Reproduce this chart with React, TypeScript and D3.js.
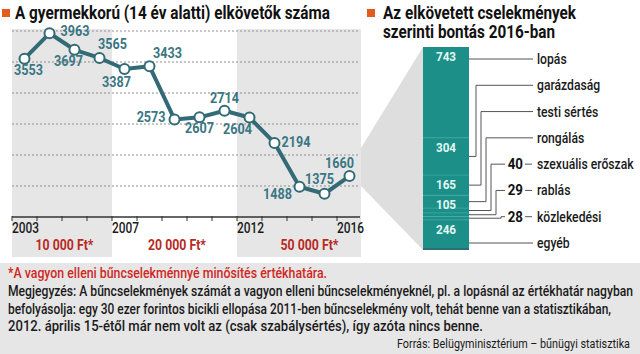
import React from 'react';
import * as d3 from 'd3';

// Adatok
const years = [2003, 2004, 2005, 2006, 2007, 2008, 2009, 2010, 2011, 2012, 2013, 2014, 2015, 2016];
const offenders = [3553, 3963, 3697, 3565, 3387, 3433, 2573, 2607, 2714, 2604, 2194, 1488, 1375, 1660];
const yTicks = [1500, 2000, 2500, 3000, 3500, 4000];
const axisLabelYears = [2003, 2007, 2012, 2016];
const thresholdLabels = ['10 000 Ft*', '20 000 Ft*', '50 000 Ft*'];
const thresholdPeriods = [[2003, 2007], [2007, 2012], [2012, 2017]];
const categories = ['lopás', 'garázdaság', 'testi sértés', 'rongálás', 'szexuális erőszak', 'rablás', 'közlekedési', 'egyéb'];
const categoryValues = [743, 304, 165, 105, 40, 29, 28, 246];

const titleLeft = 'A gyermekkorú (14 év alatti) elkövetők száma';
const titleRight = ['Az elkövetett cselekmények', 'szerinti bontás 2016-ban'];
const noteRed = '*A vagyon elleni bűncselekménnyé minősítés értékhatára.';
const noteLines = [
  'Megjegyzés: A bűncselekmények számát a vagyon elleni bűncselekményeknél, pl. a lopásnál az értékhatár nagyban',
  'befolyásolja: egy 30 ezer forintos bicikli ellopása 2011-ben bűncselekmény volt, tehát benne van a statisztikában,',
  '2012. április 15-étől már nem volt az (csak szabálysértés), így azóta nincs benne.',
];
const source = 'Forrás: Belügyminisztérium – bűnügyi statisztika';

// címke eltolások a pontokhoz képest [dx, dy, anchor]
const labelOffsets: [number, number, string][] = [
  [4, 16, 'middle'], [11, 3, 'start'], [-6, 16, 'middle'], [13, -9, 'middle'],
  [-8, 18, 'middle'], [18, -8, 'middle'], [-9, 3, 'end'], [0, 16, 'middle'],
  [0, -8, 'middle'], [-12, 16, 'middle'], [7, 4, 'start'], [-22, 12, 'middle'],
  [-5, -10, 'middle'], [-10, -8, 'middle'],
];

const FONT = 'Roboto, "Liberation Sans", sans-serif';
const LINE = '#336a76';
const LABEL = '#3a7683';
const TEAL = '#1b8f88';
const ORANGE = '#e35b1e';
const RED = '#b82a1f';

function CText({ x, y, sx = 0.87, anchor = 'start', children, ...rest }: any) {
  return (
    <text transform={`translate(${x},${y}) scale(${sx},1)`} textAnchor={anchor} fontFamily={FONT} {...rest}>
      {children}
    </text>
  );
}

export default function App() {
  const x = d3.scaleLinear().domain([2003, 2017]).range([12, 362]);
  const y = d3.scaleLinear().domain([1000, 4000]).range([217, 31]);
  const line = d3.line<number>().x((_, i) => x(years[i] + 0.5)).y(d => y(d));

  const total = d3.sum(categoryValues);
  const barX = 423, barW = 46;
  const by = d3.scaleLinear().domain([0, total]).range([47, 250]);
  const cum = categoryValues.map((_, i) => d3.sum(categoryValues.slice(0, i)));
  const labelY = d3.scaleLinear().domain([0, categories.length - 1]).range([59, 243]);
  const textX = 537;
  const lineEnd = 533;

  const lastY = y(offenders[offenders.length - 1]);

  return (
    <svg width={640} height={354} style={{ position: 'absolute', left: 0, top: 0 }}>
      <rect width={640} height={354} fill="#fff" />

      {/* címek */}
      <rect x={2} y={9} width={8} height={8} fill={ORANGE} />
      <text x={15} y={18.5} fontFamily={FONT} fontWeight="bold" fontSize={17.5} fill="#111"
        textLength={315} lengthAdjust="spacingAndGlyphs">{titleLeft}</text>
      <rect x={367} y={9} width={8} height={8} fill={ORANGE} />
      {titleRight.map((t, i) => (
        <text key={t} x={383} y={18.5 + i * 19} fontFamily={FONT} fontWeight="bold" fontSize={17.5} fill="#111"
          textLength={i === 0 ? 193 : 172} lengthAdjust="spacingAndGlyphs">{t}</text>
      ))}

      {/* háttér sávok */}
      {thresholdPeriods.map((p, i) => (
        <rect key={i} x={x(p[0])} y={29} width={Math.min(x(p[1]), 361) - x(p[0])} height={228}
          fill={i === 1 ? '#fff' : '#e6e6e6'} />
      ))}

      {/* ék */}
      <polygon points={`361,${lastY - 28} ${barX},${by(0)} ${barX},${by(total)} 361,${lastY + 10}`} fill="#dedede" />

      {/* rácsvonalak */}
      {yTicks.map(t => (
        <line key={t} x1={12} x2={360} y1={y(t)} y2={y(t)} stroke="#8f8f8f" strokeWidth={1} strokeDasharray="2,2" />
      ))}

      {/* tengely */}
      <line x1={12} x2={360} y1={y(1000)} y2={y(1000)} stroke="#333" strokeWidth={1.5} />
      {years.map(yr => (
        <line key={yr} x1={x(yr)} x2={x(yr)} y1={y(1000) - 1} y2={y(1000) + 4} stroke="#333" strokeWidth={1} />
      ))}
      {axisLabelYears.map(yr => (
        <CText key={yr} x={x(yr)} y={233} fontSize={14} fontWeight={500} fill="#1a1a1a" sx={0.85}>{yr}</CText>
      ))}
      {thresholdLabels.map((t, i) => {
        const anchorYear = [2005.1, 2009.6, 2014.9][i];
        return (
          <CText key={t} x={x(anchorYear)} y={250} anchor="middle" fontSize={14} fontWeight="bold" fill={RED} sx={0.88}>{t}</CText>
        );
      })}

      {/* vonal */}
      <path d={line(offenders) || ''} fill="none" stroke={LINE} strokeWidth={4} strokeLinejoin="round" />
      {offenders.map((v, i) => (
        <circle key={i} cx={x(years[i] + 0.5)} cy={y(v)} r={5} fill="#fff" stroke={LINE} strokeWidth={2} />
      ))}
      {offenders.map((v, i) => {
        const [dx, dy, a] = labelOffsets[i];
        return (
          <CText key={i} x={x(years[i] + 0.5) + dx} y={y(v) + dy} anchor={a} fontSize={14} fontWeight="bold" fill={LABEL} sx={0.9}>{v}</CText>
        );
      })}

      {/* oszlop */}
      {categoryValues.map((v, i) => (
        <rect key={i} x={barX} y={by(cum[i])} width={barW} height={by(cum[i] + v) - by(cum[i])} fill={TEAL} />
      ))}
      {categoryValues.slice(1).map((v, i) => (
        <line key={i} x1={barX} x2={barX + barW} y1={by(cum[i + 1])} y2={by(cum[i + 1])} stroke="#3fb0a6" strokeWidth={0.6} />
      ))}
      <rect x={barX} y={by(total) - 2} width={barW} height={2} fill="#2c6e76" />
      {categoryValues.map((v, i) => v > 100 ? (
        <CText key={i} x={barX + barW / 2} y={by(cum[i]) + 14} anchor="middle" fontSize={13} fontWeight="bold" fill="#e2f7f2" sx={0.9}>{v}</CText>
      ) : null)}

      {/* összekötők */}
      {categories.map((c, i) => {
        const ly = labelY(i);
        const v = categoryValues[i];
        const small = v < 100;
        const first = i === 0 || i === categories.length - 1;
        const segMid = by(cum[i] + v / 2);
        const vx = 471 + i * 5;
        const startX = small ? 505 : lineEnd;
        let d: string;
        if (first) d = `M${barX + barW},${ly}H${lineEnd}`;
        else d = `M${startX},${ly}H${vx}V${segMid}H${barX + barW}`;
        return (
          <g key={c}>
            <path d={d} fill="none" stroke="#555" strokeWidth={1} />
            {small && <line x1={525} x2={532} y1={ly} y2={ly} stroke="#555" strokeWidth={1} />}
            {small && (
              <CText x={523} y={ly + 5} anchor="end" fontSize={14} fontWeight="bold" fill="#111" sx={0.95}>{v}</CText>
            )}
            <CText x={textX} y={ly + 5} fontSize={14.5} fontWeight={500} fill="#1a1a1a" sx={0.84}>{c}</CText>
          </g>
        );
      })}

      {/* lábjegyzet */}
      <rect x={0} y={263} width={640} height={91} fill="#e6e6e6" />
      <text x={8} y={278} fontFamily={FONT} fontSize={14} fontWeight={500} fill="#d0281f" textLength={319} lengthAdjust="spacingAndGlyphs">{noteRed}</text>
      {noteLines.map((t, i) => (
        <text key={i} x={8} y={296 + i * 17.5} fontFamily={FONT} fontSize={14} fontWeight={500} fill="#1a1a1a"
          textLength={[625, 603, 475][i]} lengthAdjust="spacingAndGlyphs">{t}</text>
      ))}
      <text x={630} y={348} textAnchor="end" fontFamily={FONT} fontSize={13} fill="#1a1a1a"
        textLength={233} lengthAdjust="spacingAndGlyphs">{source}</text>
    </svg>
  );
}
